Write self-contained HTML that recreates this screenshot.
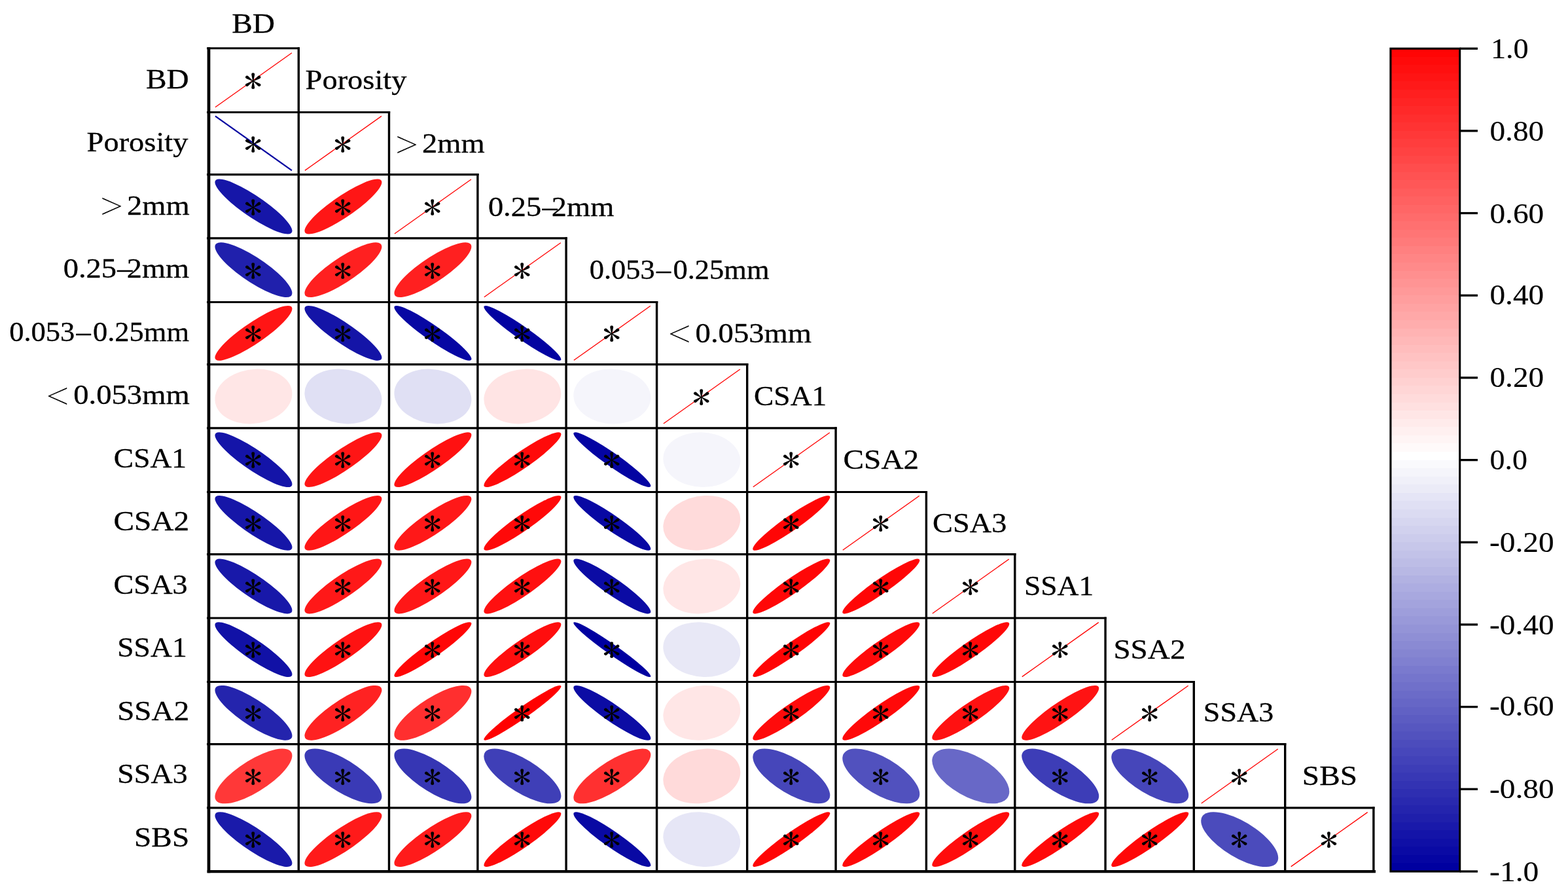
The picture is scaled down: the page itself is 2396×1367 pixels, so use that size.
<!DOCTYPE html>
<html lang="en"><head><meta charset="utf-8"><title>Correlation plot</title>
<style>html,body{margin:0;padding:0;background:#fff}body{width:2396px;height:1367px;overflow:hidden}svg{display:block}text{white-space:pre}</style>
</head><body>
<svg width="2396" height="1367" viewBox="0 0 2396 1367" role="img" aria-label="Correlation plot">
<rect width="2396" height="1367" fill="#ffffff"/>
<g id="ellipses">
<line x1="328.95" y1="163.70" x2="445.95" y2="80.70" stroke="#ff0000" stroke-width="1.3"/>
<line x1="328.95" y1="177.36" x2="445.95" y2="260.36" stroke="#0000a0" stroke-width="2.2"/>
<line x1="465.93" y1="260.36" x2="582.93" y2="177.36" stroke="#ff0000" stroke-width="1.3"/>
<circle r="1" fill="#1616a8" transform="matrix(14.148 -10.047 -57.279 -40.678 387.45 315.52)"/>
<circle r="1" fill="#ff1616" transform="matrix(57.279 -40.678 -14.148 -10.047 524.43 315.52)"/>
<line x1="602.91" y1="357.02" x2="719.91" y2="274.02" stroke="#ff0000" stroke-width="1.3"/>
<circle r="1" fill="#2020ac" transform="matrix(16.372 -11.627 -56.683 -40.255 387.45 412.18)"/>
<circle r="1" fill="#ff2020" transform="matrix(56.683 -40.255 -16.372 -11.627 524.43 412.18)"/>
<circle r="1" fill="#ff2020" transform="matrix(56.683 -40.255 -16.372 -11.627 661.41 412.18)"/>
<line x1="739.89" y1="453.68" x2="856.89" y2="370.68" stroke="#ff0000" stroke-width="1.3"/>
<circle r="1" fill="#ff1515" transform="matrix(57.339 -40.721 -13.899 -9.871 387.45 508.84)"/>
<circle r="1" fill="#1414a7" transform="matrix(13.647 -9.691 -57.400 -40.764 524.43 508.84)"/>
<circle r="1" fill="#0707a3" transform="matrix(10.134 -7.197 -58.123 -41.277 661.41 508.84)"/>
<circle r="1" fill="#0303a1" transform="matrix(8.651 -6.144 -58.362 -41.447 798.39 508.84)"/>
<line x1="876.87" y1="550.34" x2="993.87" y2="467.34" stroke="#ff0000" stroke-width="1.3"/>
<circle r="1" fill="#ffe6e6" transform="matrix(43.756 -31.074 -39.578 -28.107 387.45 605.50)"/>
<circle r="1" fill="#e0e0f4" transform="matrix(39.136 -27.793 -44.152 -31.355 524.43 605.50)"/>
<circle r="1" fill="#e0e0f4" transform="matrix(39.136 -27.793 -44.152 -31.355 661.41 605.50)"/>
<circle r="1" fill="#ffe4e4" transform="matrix(43.855 -31.144 -39.468 -28.029 798.39 605.50)"/>
<circle r="1" fill="#f5f5fb" transform="matrix(40.876 -29.029 -42.546 -30.215 935.37 605.50)"/>
<line x1="1013.85" y1="647.00" x2="1130.85" y2="564.00" stroke="#ff0000" stroke-width="1.3"/>
<circle r="1" fill="#1414a8" transform="matrix(13.837 -9.826 -57.355 -40.731 387.45 702.16)"/>
<circle r="1" fill="#ff1515" transform="matrix(57.309 -40.699 -14.024 -9.960 524.43 702.16)"/>
<circle r="1" fill="#ff1111" transform="matrix(57.567 -40.882 -12.926 -9.180 661.41 702.16)"/>
<circle r="1" fill="#ff0a0a" transform="matrix(57.958 -41.160 -11.038 -7.839 798.39 702.16)"/>
<circle r="1" fill="#0404a2" transform="matrix(8.948 -6.354 -58.318 -41.415 935.37 702.16)"/>
<circle r="1" fill="#f5f5fb" transform="matrix(40.876 -29.029 -42.546 -30.215 1072.35 702.16)"/>
<line x1="1150.83" y1="743.66" x2="1267.83" y2="660.66" stroke="#ff0000" stroke-width="1.3"/>
<circle r="1" fill="#1616a8" transform="matrix(14.209 -10.091 -57.263 -40.667 387.45 798.82)"/>
<circle r="1" fill="#ff1616" transform="matrix(57.279 -40.678 -14.148 -10.047 524.43 798.82)"/>
<circle r="1" fill="#ff1818" transform="matrix(57.157 -40.591 -14.632 -10.391 661.41 798.82)"/>
<circle r="1" fill="#ff0909" transform="matrix(58.048 -41.224 -10.554 -7.495 798.39 798.82)"/>
<circle r="1" fill="#0808a3" transform="matrix(10.304 -7.318 -58.093 -41.256 935.37 798.82)"/>
<circle r="1" fill="#ffdbdb" transform="matrix(44.544 -31.634 -38.689 -27.476 1072.35 798.82)"/>
<circle r="1" fill="#ff0606" transform="matrix(58.183 -41.320 -9.784 -6.948 1209.33 798.82)"/>
<line x1="1287.81" y1="840.32" x2="1404.81" y2="757.32" stroke="#ff0000" stroke-width="1.3"/>
<circle r="1" fill="#1818a9" transform="matrix(14.809 -10.517 -57.111 -40.559 387.45 895.48)"/>
<circle r="1" fill="#ff1818" transform="matrix(57.157 -40.591 -14.632 -10.391 524.43 895.48)"/>
<circle r="1" fill="#ff1717" transform="matrix(57.203 -40.624 -14.452 -10.263 661.41 895.48)"/>
<circle r="1" fill="#ff1010" transform="matrix(57.642 -40.936 -12.585 -8.938 798.39 895.48)"/>
<circle r="1" fill="#0b0ba4" transform="matrix(11.194 -7.950 -57.928 -41.139 935.37 895.48)"/>
<circle r="1" fill="#ffe6e6" transform="matrix(43.756 -31.074 -39.578 -28.107 1072.35 895.48)"/>
<circle r="1" fill="#ff0707" transform="matrix(58.123 -41.277 -10.134 -7.197 1209.33 895.48)"/>
<circle r="1" fill="#ff0606" transform="matrix(58.198 -41.330 -9.695 -6.885 1346.31 895.48)"/>
<line x1="1424.79" y1="936.98" x2="1541.79" y2="853.98" stroke="#ff0000" stroke-width="1.3"/>
<circle r="1" fill="#1111a6" transform="matrix(13.060 -9.275 -57.536 -40.861 387.45 992.14)"/>
<circle r="1" fill="#ff1212" transform="matrix(57.476 -40.818 -13.324 -9.462 524.43 992.14)"/>
<circle r="1" fill="#ff0606" transform="matrix(58.198 -41.330 -9.695 -6.885 661.41 992.14)"/>
<circle r="1" fill="#ff0e0e" transform="matrix(57.748 -41.011 -12.091 -8.587 798.39 992.14)"/>
<circle r="1" fill="#0000a0" transform="matrix(6.855 -4.868 -58.600 -41.616 935.37 992.14)"/>
<circle r="1" fill="#e8e8f6" transform="matrix(39.798 -28.263 -43.556 -30.932 1072.35 992.14)"/>
<circle r="1" fill="#ff0404" transform="matrix(58.318 -41.415 -8.948 -6.354 1209.33 992.14)"/>
<circle r="1" fill="#ff0a0a" transform="matrix(57.958 -41.160 -11.038 -7.839 1346.31 992.14)"/>
<circle r="1" fill="#ff0808" transform="matrix(58.063 -41.235 -10.471 -7.437 1483.29 992.14)"/>
<line x1="1561.77" y1="1033.64" x2="1678.77" y2="950.64" stroke="#ff0000" stroke-width="1.3"/>
<circle r="1" fill="#2424ad" transform="matrix(17.252 -12.252 -56.421 -40.069 387.45 1088.80)"/>
<circle r="1" fill="#ff2222" transform="matrix(56.514 -40.134 -16.946 -12.035 524.43 1088.80)"/>
<circle r="1" fill="#ff2f2f" transform="matrix(55.754 -39.595 -19.299 -13.706 661.41 1088.80)"/>
<circle r="1" fill="#ff0101" transform="matrix(58.526 -41.563 -7.463 -5.300 798.39 1088.80)"/>
<circle r="1" fill="#0c0ca4" transform="matrix(11.501 -8.168 -57.868 -41.096 935.37 1088.80)"/>
<circle r="1" fill="#ffe6e6" transform="matrix(43.756 -31.074 -39.578 -28.107 1072.35 1088.80)"/>
<circle r="1" fill="#ff0b0b" transform="matrix(57.928 -41.139 -11.194 -7.950 1209.33 1088.80)"/>
<circle r="1" fill="#ff0909" transform="matrix(58.048 -41.224 -10.554 -7.495 1346.31 1088.80)"/>
<circle r="1" fill="#ff1111" transform="matrix(57.567 -40.882 -12.926 -9.180 1483.29 1088.80)"/>
<circle r="1" fill="#ff1313" transform="matrix(57.461 -40.807 -13.389 -9.509 1620.27 1088.80)"/>
<line x1="1698.75" y1="1130.30" x2="1815.75" y2="1047.30" stroke="#ff0000" stroke-width="1.3"/>
<circle r="1" fill="#ff3838" transform="matrix(55.189 -39.194 -20.860 -14.814 387.45 1185.46)"/>
<circle r="1" fill="#3a3ab6" transform="matrix(21.191 -15.049 -55.063 -39.104 524.43 1185.46)"/>
<circle r="1" fill="#3636b4" transform="matrix(20.481 -14.545 -55.331 -39.295 661.41 1185.46)"/>
<circle r="1" fill="#3f3fb7" transform="matrix(21.918 -15.565 -54.778 -38.902 798.39 1185.46)"/>
<circle r="1" fill="#ff3030" transform="matrix(55.707 -39.562 -19.434 -13.802 935.37 1185.46)"/>
<circle r="1" fill="#ffdada" transform="matrix(44.642 -31.703 -38.576 -27.396 1072.35 1185.46)"/>
<circle r="1" fill="#4646ba" transform="matrix(23.040 -16.362 -54.315 -38.573 1209.33 1185.46)"/>
<circle r="1" fill="#5151be" transform="matrix(24.611 -17.478 -53.622 -38.081 1346.31 1185.46)"/>
<circle r="1" fill="#6868c7" transform="matrix(27.595 -19.597 -52.149 -37.035 1483.29 1185.46)"/>
<circle r="1" fill="#3d3db7" transform="matrix(21.598 -15.338 -54.905 -38.992 1620.27 1185.46)"/>
<circle r="1" fill="#4646ba" transform="matrix(23.040 -16.362 -54.315 -38.573 1757.25 1185.46)"/>
<line x1="1835.73" y1="1226.96" x2="1952.73" y2="1143.96" stroke="#ff0000" stroke-width="1.3"/>
<circle r="1" fill="#1a1aaa" transform="matrix(15.100 -10.723 -57.035 -40.505 387.45 1282.12)"/>
<circle r="1" fill="#ff1a1a" transform="matrix(57.005 -40.483 -15.215 -10.805 524.43 1282.12)"/>
<circle r="1" fill="#ff1b1b" transform="matrix(56.943 -40.439 -15.442 -10.966 661.41 1282.12)"/>
<circle r="1" fill="#ff0909" transform="matrix(58.018 -41.203 -10.718 -7.612 798.39 1282.12)"/>
<circle r="1" fill="#0909a3" transform="matrix(10.718 -7.612 -58.018 -41.203 935.37 1282.12)"/>
<circle r="1" fill="#e6e6f6" transform="matrix(39.578 -28.107 -43.756 -31.074 1072.35 1282.12)"/>
<circle r="1" fill="#ff0505" transform="matrix(58.273 -41.384 -9.235 -6.558 1209.33 1282.12)"/>
<circle r="1" fill="#ff0808" transform="matrix(58.063 -41.235 -10.471 -7.437 1346.31 1282.12)"/>
<circle r="1" fill="#ff0c0c" transform="matrix(57.853 -41.086 -11.577 -8.221 1483.29 1282.12)"/>
<circle r="1" fill="#ff0909" transform="matrix(58.048 -41.224 -10.554 -7.495 1620.27 1282.12)"/>
<circle r="1" fill="#ff0808" transform="matrix(58.093 -41.256 -10.304 -7.318 1757.25 1282.12)"/>
<circle r="1" fill="#4b4bbc" transform="matrix(23.820 -16.916 -53.978 -38.333 1894.23 1282.12)"/>
<line x1="1972.71" y1="1323.62" x2="2089.71" y2="1240.62" stroke="#ff0000" stroke-width="1.3"/>
</g>
<g id="stars" font-family="IPAGothic, 'Liberation Serif', 'Times New Roman', serif" font-size="49.20" fill="#000">
<text transform="translate(372.85 141.90) scale(1.1379 1)">*</text>
<text transform="translate(372.85 238.96) scale(1.1379 1)">*</text>
<text transform="translate(509.83 238.96) scale(1.1379 1)">*</text>
<text transform="translate(372.85 334.52) scale(1.1379 1)">*</text>
<text transform="translate(509.83 334.52) scale(1.1379 1)">*</text>
<text transform="translate(646.81 334.52) scale(1.1379 1)">*</text>
<text transform="translate(372.85 431.58) scale(1.1379 1)">*</text>
<text transform="translate(509.83 431.58) scale(1.1379 1)">*</text>
<text transform="translate(646.81 431.58) scale(1.1379 1)">*</text>
<text transform="translate(783.79 431.58) scale(1.1379 1)">*</text>
<text transform="translate(372.85 528.24) scale(1.1379 1)">*</text>
<text transform="translate(509.83 528.24) scale(1.1379 1)">*</text>
<text transform="translate(646.81 528.24) scale(1.1379 1)">*</text>
<text transform="translate(783.79 528.24) scale(1.1379 1)">*</text>
<text transform="translate(920.77 528.24) scale(1.1379 1)">*</text>
<text transform="translate(1057.75 624.90) scale(1.1379 1)">*</text>
<text transform="translate(372.85 721.36) scale(1.1379 1)">*</text>
<text transform="translate(509.83 721.36) scale(1.1379 1)">*</text>
<text transform="translate(646.81 721.36) scale(1.1379 1)">*</text>
<text transform="translate(783.79 721.36) scale(1.1379 1)">*</text>
<text transform="translate(920.77 721.36) scale(1.1379 1)">*</text>
<text transform="translate(1194.73 721.36) scale(1.1379 1)">*</text>
<text transform="translate(372.85 818.42) scale(1.1379 1)">*</text>
<text transform="translate(509.83 818.42) scale(1.1379 1)">*</text>
<text transform="translate(646.81 818.42) scale(1.1379 1)">*</text>
<text transform="translate(783.79 818.42) scale(1.1379 1)">*</text>
<text transform="translate(920.77 818.42) scale(1.1379 1)">*</text>
<text transform="translate(1194.73 818.42) scale(1.1379 1)">*</text>
<text transform="translate(1331.71 818.42) scale(1.1379 1)">*</text>
<text transform="translate(372.85 914.68) scale(1.1379 1)">*</text>
<text transform="translate(509.83 914.68) scale(1.1379 1)">*</text>
<text transform="translate(646.81 914.68) scale(1.1379 1)">*</text>
<text transform="translate(783.79 914.68) scale(1.1379 1)">*</text>
<text transform="translate(920.77 914.68) scale(1.1379 1)">*</text>
<text transform="translate(1194.73 914.68) scale(1.1379 1)">*</text>
<text transform="translate(1331.71 914.68) scale(1.1379 1)">*</text>
<text transform="translate(1468.69 914.68) scale(1.1379 1)">*</text>
<text transform="translate(372.85 1011.04) scale(1.1379 1)">*</text>
<text transform="translate(509.83 1011.04) scale(1.1379 1)">*</text>
<text transform="translate(646.81 1011.04) scale(1.1379 1)">*</text>
<text transform="translate(783.79 1011.04) scale(1.1379 1)">*</text>
<text transform="translate(920.77 1011.04) scale(1.1379 1)">*</text>
<text transform="translate(1194.73 1011.04) scale(1.1379 1)">*</text>
<text transform="translate(1331.71 1011.04) scale(1.1379 1)">*</text>
<text transform="translate(1468.69 1011.04) scale(1.1379 1)">*</text>
<text transform="translate(1605.67 1011.04) scale(1.1379 1)">*</text>
<text transform="translate(372.85 1108.30) scale(1.1379 1)">*</text>
<text transform="translate(509.83 1108.30) scale(1.1379 1)">*</text>
<text transform="translate(646.81 1108.30) scale(1.1379 1)">*</text>
<text transform="translate(783.79 1108.30) scale(1.1379 1)">*</text>
<text transform="translate(920.77 1108.30) scale(1.1379 1)">*</text>
<text transform="translate(1194.73 1108.30) scale(1.1379 1)">*</text>
<text transform="translate(1331.71 1108.30) scale(1.1379 1)">*</text>
<text transform="translate(1468.69 1108.30) scale(1.1379 1)">*</text>
<text transform="translate(1605.67 1108.30) scale(1.1379 1)">*</text>
<text transform="translate(1742.65 1108.30) scale(1.1379 1)">*</text>
<text transform="translate(372.85 1205.06) scale(1.1379 1)">*</text>
<text transform="translate(509.83 1205.06) scale(1.1379 1)">*</text>
<text transform="translate(646.81 1205.06) scale(1.1379 1)">*</text>
<text transform="translate(783.79 1205.06) scale(1.1379 1)">*</text>
<text transform="translate(920.77 1205.06) scale(1.1379 1)">*</text>
<text transform="translate(1194.73 1205.06) scale(1.1379 1)">*</text>
<text transform="translate(1331.71 1205.06) scale(1.1379 1)">*</text>
<text transform="translate(1605.67 1205.06) scale(1.1379 1)">*</text>
<text transform="translate(1742.65 1205.06) scale(1.1379 1)">*</text>
<text transform="translate(1879.63 1205.06) scale(1.1379 1)">*</text>
<text transform="translate(372.85 1301.32) scale(1.1379 1)">*</text>
<text transform="translate(509.83 1301.32) scale(1.1379 1)">*</text>
<text transform="translate(646.81 1301.32) scale(1.1379 1)">*</text>
<text transform="translate(783.79 1301.32) scale(1.1379 1)">*</text>
<text transform="translate(920.77 1301.32) scale(1.1379 1)">*</text>
<text transform="translate(1194.73 1301.32) scale(1.1379 1)">*</text>
<text transform="translate(1331.71 1301.32) scale(1.1379 1)">*</text>
<text transform="translate(1468.69 1301.32) scale(1.1379 1)">*</text>
<text transform="translate(1605.67 1301.32) scale(1.1379 1)">*</text>
<text transform="translate(1742.65 1301.32) scale(1.1379 1)">*</text>
<text transform="translate(1879.63 1301.32) scale(1.1379 1)">*</text>
<text transform="translate(2016.61 1301.32) scale(1.1379 1)">*</text>
</g>
<g id="grid" stroke="#000" fill="none" stroke-linecap="butt">
<line x1="316.15" y1="73.7" x2="457.95" y2="73.7" stroke-width="3.1"/>
<line x1="316.15" y1="171.5" x2="596.15" y2="171.5" stroke-width="3.1"/>
<line x1="316.15" y1="266.6" x2="731.55" y2="266.6" stroke-width="3.1"/>
<line x1="316.15" y1="363.9" x2="866.75" y2="363.9" stroke-width="3.1"/>
<line x1="316.15" y1="461.5" x2="1005.25" y2="461.5" stroke-width="3.1"/>
<line x1="316.15" y1="556.6" x2="1143.35" y2="556.6" stroke-width="3.1"/>
<line x1="316.15" y1="653.9" x2="1278.75" y2="653.9" stroke-width="3.1"/>
<line x1="316.15" y1="751.5" x2="1417.05" y2="751.5" stroke-width="3.1"/>
<line x1="316.15" y1="846.6" x2="1552.45" y2="846.6" stroke-width="3.1"/>
<line x1="316.15" y1="944.0" x2="1690.75" y2="944.0" stroke-width="3.1"/>
<line x1="316.15" y1="1041.5" x2="1825.95" y2="1041.5" stroke-width="3.1"/>
<line x1="316.15" y1="1136.6" x2="1965.35" y2="1136.6" stroke-width="3.1"/>
<line x1="316.15" y1="1233.9" x2="2100.55" y2="1233.9" stroke-width="3.1"/>
<line x1="316.65" y1="1331.2" x2="2102.00" y2="1331.2" stroke-width="4.2"/>
<line x1="319.0" y1="72.15" x2="319.0" y2="1333.30" stroke-width="4.7"/>
<line x1="456.30" y1="72.15" x2="456.30" y2="1331.20" stroke-width="3.4"/>
<line x1="594.50" y1="169.95" x2="594.50" y2="1331.20" stroke-width="3.4"/>
<line x1="729.90" y1="265.05" x2="729.90" y2="1331.20" stroke-width="3.4"/>
<line x1="865.10" y1="362.35" x2="865.10" y2="1331.20" stroke-width="3.4"/>
<line x1="1003.60" y1="459.95" x2="1003.60" y2="1331.20" stroke-width="3.4"/>
<line x1="1141.70" y1="555.05" x2="1141.70" y2="1331.20" stroke-width="3.4"/>
<line x1="1277.10" y1="652.35" x2="1277.10" y2="1331.20" stroke-width="3.4"/>
<line x1="1415.40" y1="749.95" x2="1415.40" y2="1331.20" stroke-width="3.4"/>
<line x1="1550.80" y1="845.05" x2="1550.80" y2="1331.20" stroke-width="3.4"/>
<line x1="1689.10" y1="942.45" x2="1689.10" y2="1331.20" stroke-width="3.4"/>
<line x1="1824.30" y1="1039.95" x2="1824.30" y2="1331.20" stroke-width="3.4"/>
<line x1="1963.70" y1="1135.05" x2="1963.70" y2="1331.20" stroke-width="3.4"/>
<line x1="2098.90" y1="1232.35" x2="2098.90" y2="1331.20" stroke-width="3.4"/>
</g>
<g id="labels" font-family="'Liberation Serif', 'Times New Roman', serif" font-size="42.6" fill="#000" stroke="#000" stroke-width="0.3" stroke-linejoin="round">
<text transform="translate(0 134.55) scale(1.1115 1)"><tspan x="200.62" y="0">BD</tspan></text>
<text transform="translate(0 231.09) scale(1.0905 1)"><tspan x="121.60" y="0">Porosity</tspan></text>
<text transform="translate(0 327.63) scale(1.0934 1)"><tspan x="139.78" y="6.5" font-size="58.0" stroke="#fff" stroke-width="0.8">&gt;</tspan><tspan x="177.51" y="0">2mm</tspan></text>
<text transform="translate(0 424.17) scale(1.0910 1)"><tspan x="88.63" y="0">0.25</tspan><tspan x="164.35" y="0">–</tspan><tspan x="177.53" y="0">2mm</tspan></text>
<text transform="translate(0 520.71) scale(1.0455 1)"><tspan x="13.55" y="0">0.053</tspan><tspan x="111.43" y="0">–</tspan><tspan x="135.79" y="0">0.25mm</tspan></text>
<text transform="translate(0 617.25) scale(1.0957 1)"><tspan x="63.90" y="6.5" font-size="58.0" stroke="#fff" stroke-width="0.8">&lt;</tspan><tspan x="102.39" y="0">0.053mm</tspan></text>
<text transform="translate(0 713.79) scale(1.0693 1)"><tspan x="162.51" y="0">CSA1</tspan></text>
<text transform="translate(0 810.33) scale(1.1128 1)"><tspan x="155.83" y="0">CSA2</tspan></text>
<text transform="translate(0 906.87) scale(1.0881 1)"><tspan x="159.41" y="0">CSA3</tspan></text>
<text transform="translate(0 1003.41) scale(1.0702 1)"><tspan x="167.51" y="0">SSA1</tspan></text>
<text transform="translate(0 1099.95) scale(1.1072 1)"><tspan x="161.80" y="0">SSA2</tspan></text>
<text transform="translate(0 1196.49) scale(1.0811 1)"><tspan x="165.79" y="0">SSA3</tspan></text>
<text transform="translate(0 1293.03) scale(1.1111 1)"><tspan x="184.54" y="0">SBS</tspan></text>
<text transform="translate(0 50.40) scale(1.1115 1)"><tspan x="318.75" y="0">BD</tspan></text>
<text transform="translate(0 136.45) scale(1.0905 1)"><tspan x="427.89" y="0">Porosity</tspan></text>
<text transform="translate(0 233.05) scale(1.0934 1)"><tspan x="552.17" y="6.5" font-size="58.0" stroke="#fff" stroke-width="0.8">&gt;</tspan><tspan x="589.90" y="0">2mm</tspan></text>
<text transform="translate(0 329.65) scale(1.0910 1)"><tspan x="683.67" y="0">0.25</tspan><tspan x="759.39" y="0">–</tspan><tspan x="772.57" y="0">2mm</tspan></text>
<text transform="translate(0 426.25) scale(1.0455 1)"><tspan x="861.46" y="0">0.053</tspan><tspan x="959.33" y="0">–</tspan><tspan x="983.69" y="0">0.25mm</tspan></text>
<text transform="translate(0 522.85) scale(1.0957 1)"><tspan x="931.26" y="6.5" font-size="58.0" stroke="#fff" stroke-width="0.8">&lt;</tspan><tspan x="969.75" y="0">0.053mm</tspan></text>
<text transform="translate(0 619.45) scale(1.0693 1)"><tspan x="1077.28" y="0">CSA1</tspan></text>
<text transform="translate(0 716.05) scale(1.1128 1)"><tspan x="1157.83" y="0">CSA2</tspan></text>
<text transform="translate(0 812.65) scale(1.0881 1)"><tspan x="1309.69" y="0">CSA3</tspan></text>
<text transform="translate(0 909.25) scale(1.0702 1)"><tspan x="1462.26" y="0">SSA1</tspan></text>
<text transform="translate(0 1005.85) scale(1.1072 1)"><tspan x="1536.66" y="0">SSA2</tspan></text>
<text transform="translate(0 1102.45) scale(1.0811 1)"><tspan x="1700.83" y="0">SSA3</tspan></text>
<text transform="translate(0 1199.05) scale(1.1111 1)"><tspan x="1790.86" y="0">SBS</tspan></text>
</g>
<g id="cbar-bands" shape-rendering="crispEdges">
<rect x="2124.9" y="74.20" width="105.80" height="13.17" fill="#ff0505"/>
<rect x="2124.9" y="86.77" width="105.80" height="13.17" fill="#ff0a0a"/>
<rect x="2124.9" y="99.34" width="105.80" height="13.17" fill="#ff0f0f"/>
<rect x="2124.9" y="111.90" width="105.80" height="13.17" fill="#ff1414"/>
<rect x="2124.9" y="124.47" width="105.80" height="13.17" fill="#ff1919"/>
<rect x="2124.9" y="137.04" width="105.80" height="13.17" fill="#ff1f1f"/>
<rect x="2124.9" y="149.61" width="105.80" height="13.17" fill="#ff2424"/>
<rect x="2124.9" y="162.18" width="105.80" height="13.17" fill="#ff2929"/>
<rect x="2124.9" y="174.74" width="105.80" height="13.17" fill="#ff2e2e"/>
<rect x="2124.9" y="187.31" width="105.80" height="13.17" fill="#ff3333"/>
<rect x="2124.9" y="199.88" width="105.80" height="13.17" fill="#ff3838"/>
<rect x="2124.9" y="212.45" width="105.80" height="13.17" fill="#ff3d3d"/>
<rect x="2124.9" y="225.02" width="105.80" height="13.17" fill="#ff4242"/>
<rect x="2124.9" y="237.58" width="105.80" height="13.17" fill="#ff4747"/>
<rect x="2124.9" y="250.15" width="105.80" height="13.17" fill="#ff4d4d"/>
<rect x="2124.9" y="262.72" width="105.80" height="13.17" fill="#ff5252"/>
<rect x="2124.9" y="275.29" width="105.80" height="13.17" fill="#ff5757"/>
<rect x="2124.9" y="287.86" width="105.80" height="13.17" fill="#ff5c5c"/>
<rect x="2124.9" y="300.42" width="105.80" height="13.17" fill="#ff6161"/>
<rect x="2124.9" y="312.99" width="105.80" height="13.17" fill="#ff6666"/>
<rect x="2124.9" y="325.56" width="105.80" height="13.17" fill="#ff6b6b"/>
<rect x="2124.9" y="338.13" width="105.80" height="13.17" fill="#ff7070"/>
<rect x="2124.9" y="350.70" width="105.80" height="13.17" fill="#ff7575"/>
<rect x="2124.9" y="363.26" width="105.80" height="13.17" fill="#ff7a7a"/>
<rect x="2124.9" y="375.83" width="105.80" height="13.17" fill="#ff8080"/>
<rect x="2124.9" y="388.40" width="105.80" height="13.17" fill="#ff8585"/>
<rect x="2124.9" y="400.97" width="105.80" height="13.17" fill="#ff8a8a"/>
<rect x="2124.9" y="413.54" width="105.80" height="13.17" fill="#ff8f8f"/>
<rect x="2124.9" y="426.10" width="105.80" height="13.17" fill="#ff9494"/>
<rect x="2124.9" y="438.67" width="105.80" height="13.17" fill="#ff9999"/>
<rect x="2124.9" y="451.24" width="105.80" height="13.17" fill="#ff9e9e"/>
<rect x="2124.9" y="463.81" width="105.80" height="13.17" fill="#ffa3a3"/>
<rect x="2124.9" y="476.38" width="105.80" height="13.17" fill="#ffa8a8"/>
<rect x="2124.9" y="488.94" width="105.80" height="13.17" fill="#ffadad"/>
<rect x="2124.9" y="501.51" width="105.80" height="13.17" fill="#ffb3b3"/>
<rect x="2124.9" y="514.08" width="105.80" height="13.17" fill="#ffb8b8"/>
<rect x="2124.9" y="526.65" width="105.80" height="13.17" fill="#ffbdbd"/>
<rect x="2124.9" y="539.22" width="105.80" height="13.17" fill="#ffc2c2"/>
<rect x="2124.9" y="551.78" width="105.80" height="13.17" fill="#ffc7c7"/>
<rect x="2124.9" y="564.35" width="105.80" height="13.17" fill="#ffcccc"/>
<rect x="2124.9" y="576.92" width="105.80" height="13.17" fill="#ffd1d1"/>
<rect x="2124.9" y="589.49" width="105.80" height="13.17" fill="#ffd6d6"/>
<rect x="2124.9" y="602.06" width="105.80" height="13.17" fill="#ffdbdb"/>
<rect x="2124.9" y="614.62" width="105.80" height="13.17" fill="#ffe0e0"/>
<rect x="2124.9" y="627.19" width="105.80" height="13.17" fill="#ffe6e6"/>
<rect x="2124.9" y="639.76" width="105.80" height="13.17" fill="#ffebeb"/>
<rect x="2124.9" y="652.33" width="105.80" height="13.17" fill="#fff0f0"/>
<rect x="2124.9" y="664.90" width="105.80" height="13.17" fill="#fff5f5"/>
<rect x="2124.9" y="677.46" width="105.80" height="13.17" fill="#fffafa"/>
<rect x="2124.9" y="690.03" width="105.80" height="13.17" fill="#ffffff"/>
<rect x="2124.9" y="702.60" width="105.80" height="13.17" fill="#fafafd"/>
<rect x="2124.9" y="715.17" width="105.80" height="13.17" fill="#f5f5fb"/>
<rect x="2124.9" y="727.74" width="105.80" height="13.17" fill="#f0f0f9"/>
<rect x="2124.9" y="740.30" width="105.80" height="13.17" fill="#ebebf7"/>
<rect x="2124.9" y="752.87" width="105.80" height="13.17" fill="#e5e5f6"/>
<rect x="2124.9" y="765.44" width="105.80" height="13.17" fill="#e0e0f4"/>
<rect x="2124.9" y="778.01" width="105.80" height="13.17" fill="#dbdbf2"/>
<rect x="2124.9" y="790.58" width="105.80" height="13.17" fill="#d6d6f0"/>
<rect x="2124.9" y="803.14" width="105.80" height="13.17" fill="#d1d1ee"/>
<rect x="2124.9" y="815.71" width="105.80" height="13.17" fill="#ccccec"/>
<rect x="2124.9" y="828.28" width="105.80" height="13.17" fill="#c7c7ea"/>
<rect x="2124.9" y="840.85" width="105.80" height="13.17" fill="#c2c2e8"/>
<rect x="2124.9" y="853.42" width="105.80" height="13.17" fill="#bdbde6"/>
<rect x="2124.9" y="865.98" width="105.80" height="13.17" fill="#b8b8e4"/>
<rect x="2124.9" y="878.55" width="105.80" height="13.17" fill="#b2b2e2"/>
<rect x="2124.9" y="891.12" width="105.80" height="13.17" fill="#adade1"/>
<rect x="2124.9" y="903.69" width="105.80" height="13.17" fill="#a8a8df"/>
<rect x="2124.9" y="916.26" width="105.80" height="13.17" fill="#a3a3dd"/>
<rect x="2124.9" y="928.82" width="105.80" height="13.17" fill="#9e9edb"/>
<rect x="2124.9" y="941.39" width="105.80" height="13.17" fill="#9999d9"/>
<rect x="2124.9" y="953.96" width="105.80" height="13.17" fill="#9494d7"/>
<rect x="2124.9" y="966.53" width="105.80" height="13.17" fill="#8f8fd5"/>
<rect x="2124.9" y="979.10" width="105.80" height="13.17" fill="#8a8ad3"/>
<rect x="2124.9" y="991.66" width="105.80" height="13.17" fill="#8585d1"/>
<rect x="2124.9" y="1004.23" width="105.80" height="13.17" fill="#8080d0"/>
<rect x="2124.9" y="1016.80" width="105.80" height="13.17" fill="#7a7ace"/>
<rect x="2124.9" y="1029.37" width="105.80" height="13.17" fill="#7575cc"/>
<rect x="2124.9" y="1041.94" width="105.80" height="13.17" fill="#7070ca"/>
<rect x="2124.9" y="1054.50" width="105.80" height="13.17" fill="#6b6bc8"/>
<rect x="2124.9" y="1067.07" width="105.80" height="13.17" fill="#6666c6"/>
<rect x="2124.9" y="1079.64" width="105.80" height="13.17" fill="#6161c4"/>
<rect x="2124.9" y="1092.21" width="105.80" height="13.17" fill="#5c5cc2"/>
<rect x="2124.9" y="1104.78" width="105.80" height="13.17" fill="#5757c0"/>
<rect x="2124.9" y="1117.34" width="105.80" height="13.17" fill="#5252be"/>
<rect x="2124.9" y="1129.91" width="105.80" height="13.17" fill="#4c4cbc"/>
<rect x="2124.9" y="1142.48" width="105.80" height="13.17" fill="#4747bb"/>
<rect x="2124.9" y="1155.05" width="105.80" height="13.17" fill="#4242b9"/>
<rect x="2124.9" y="1167.62" width="105.80" height="13.17" fill="#3d3db7"/>
<rect x="2124.9" y="1180.18" width="105.80" height="13.17" fill="#3838b5"/>
<rect x="2124.9" y="1192.75" width="105.80" height="13.17" fill="#3333b3"/>
<rect x="2124.9" y="1205.32" width="105.80" height="13.17" fill="#2e2eb1"/>
<rect x="2124.9" y="1217.89" width="105.80" height="13.17" fill="#2929af"/>
<rect x="2124.9" y="1230.46" width="105.80" height="13.17" fill="#2424ad"/>
<rect x="2124.9" y="1243.02" width="105.80" height="13.17" fill="#1f1fab"/>
<rect x="2124.9" y="1255.59" width="105.80" height="13.17" fill="#1919aa"/>
<rect x="2124.9" y="1268.16" width="105.80" height="13.17" fill="#1414a8"/>
<rect x="2124.9" y="1280.73" width="105.80" height="13.17" fill="#0f0fa6"/>
<rect x="2124.9" y="1293.30" width="105.80" height="13.17" fill="#0a0aa4"/>
<rect x="2124.9" y="1305.86" width="105.80" height="13.17" fill="#0505a2"/>
<rect x="2124.9" y="1318.43" width="105.80" height="13.17" fill="#0000a0"/>
</g>
<rect x="2124.9" y="74.2" width="105.80" height="1256.80" fill="none" stroke="#000" stroke-width="3.1"/>
<g id="cbar" font-family="'Liberation Serif', 'Times New Roman', serif" font-size="43.6" fill="#000" stroke="#000" stroke-width="0.15" stroke-linejoin="round">
<line x1="2230.70" y1="74.20" x2="2258" y2="74.20" stroke="#000" stroke-width="3.3"/>
<text transform="translate(2277.88 89.40) scale(1.0626 1)">1.0</text>
<line x1="2230.70" y1="199.88" x2="2258" y2="199.88" stroke="#000" stroke-width="3.3"/>
<text transform="translate(2276.47 215.08) scale(1.0848 1)">0.80</text>
<line x1="2230.70" y1="325.56" x2="2258" y2="325.56" stroke="#000" stroke-width="3.3"/>
<text transform="translate(2276.47 340.76) scale(1.0848 1)">0.60</text>
<line x1="2230.70" y1="451.24" x2="2258" y2="451.24" stroke="#000" stroke-width="3.3"/>
<text transform="translate(2276.47 465.24) scale(1.0848 1)">0.40</text>
<line x1="2230.70" y1="576.92" x2="2258" y2="576.92" stroke="#000" stroke-width="3.3"/>
<text transform="translate(2276.47 590.92) scale(1.0848 1)">0.20</text>
<line x1="2230.70" y1="702.60" x2="2258" y2="702.60" stroke="#000" stroke-width="3.3"/>
<text transform="translate(2276.52 716.60) scale(1.0526 1)">0.0</text>
<line x1="2230.70" y1="828.28" x2="2258" y2="828.28" stroke="#000" stroke-width="3.3"/>
<text transform="translate(2276.06 842.98) scale(1.0870 1)">-0.20</text>
<line x1="2230.70" y1="953.96" x2="2258" y2="953.96" stroke="#000" stroke-width="3.3"/>
<text transform="translate(2276.06 968.66) scale(1.0870 1)">-0.40</text>
<line x1="2230.70" y1="1079.64" x2="2258" y2="1079.64" stroke="#000" stroke-width="3.3"/>
<text transform="translate(2276.06 1093.44) scale(1.0870 1)">-0.60</text>
<line x1="2230.70" y1="1205.32" x2="2258" y2="1205.32" stroke="#000" stroke-width="3.3"/>
<text font-size="42.6" transform="translate(2276.06 1218.62) scale(1.1125 1)">-0.80</text>
<line x1="2230.70" y1="1331.00" x2="2258" y2="1331.00" stroke="#000" stroke-width="3.3"/>
<text transform="translate(2276.06 1345.80) scale(1.0915 1)">-1.0</text>
</g>
</svg>
</body></html>
